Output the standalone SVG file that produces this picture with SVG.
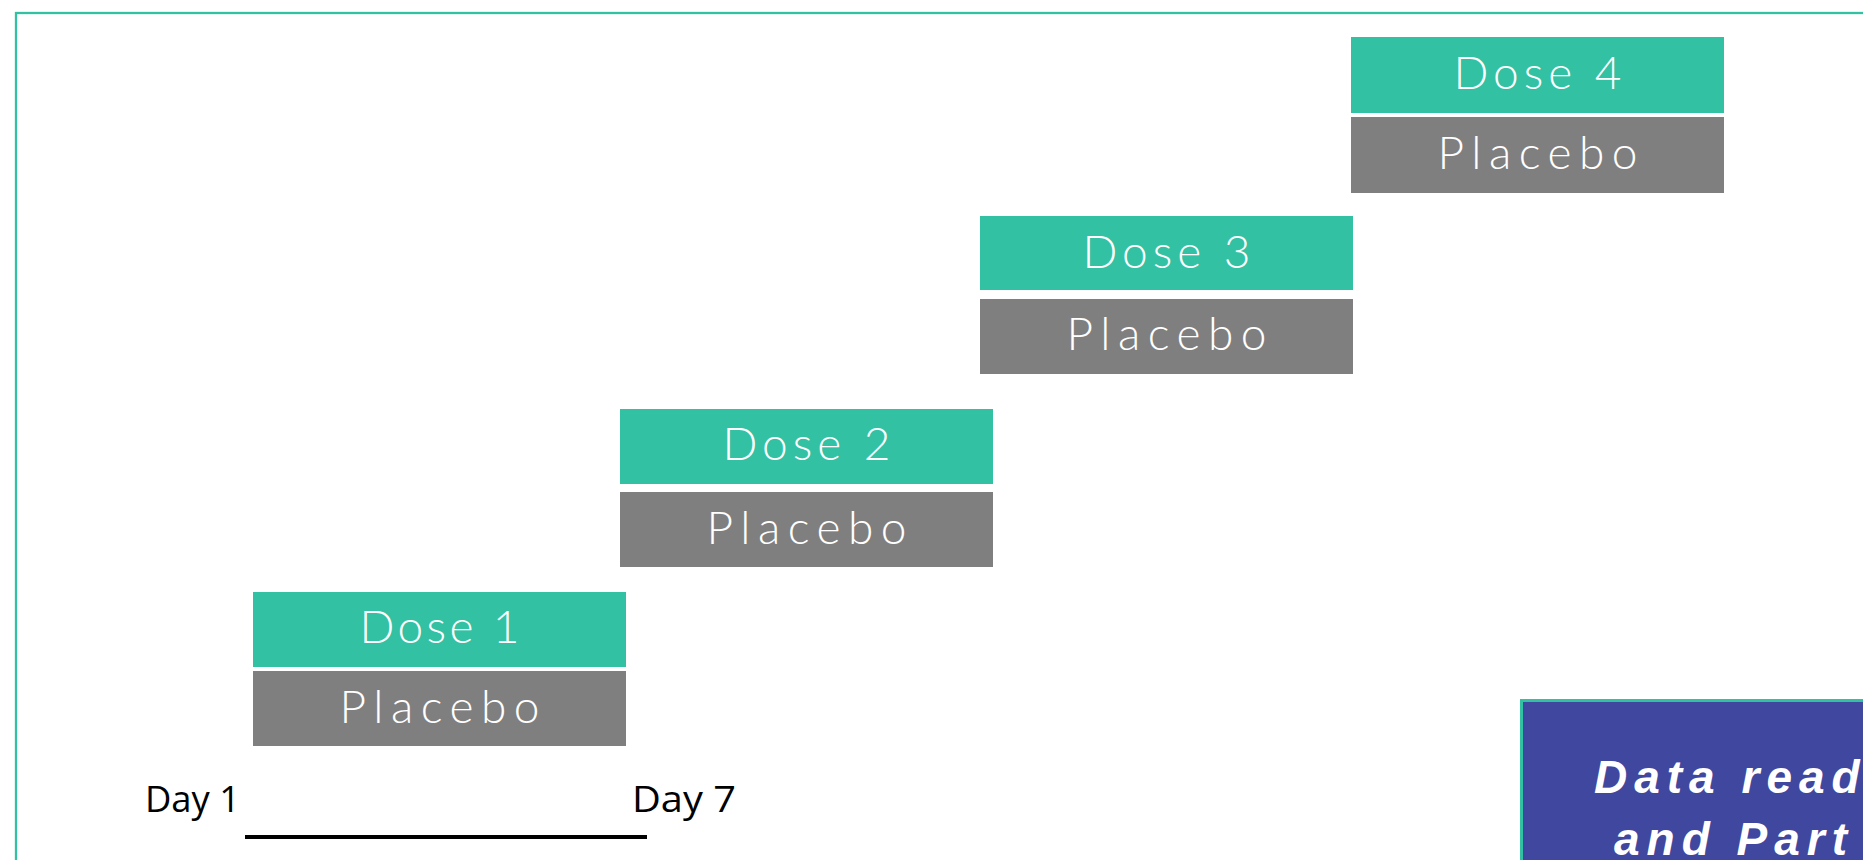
<svg xmlns="http://www.w3.org/2000/svg" width="1863" height="860" viewBox="0 0 1863 860">
<style>
.dose{fill:#33C1A3}
.plc{fill:#7F7F7F}
.lbl{font-family:Lato,"Open Sans",sans-serif;font-weight:300;font-size:46px;fill:#FFFFFF;text-anchor:middle}
.day{font-family:"Open Sans","Liberation Sans",sans-serif;font-size:37px;fill:#000000}
.read{font-family:"Liberation Sans",Arial,sans-serif;font-weight:bold;font-style:italic;font-size:46px;fill:#FFFFFF;letter-spacing:7px}
</style>
<rect id="frame" x="16" y="13" width="2000" height="1000" fill="#FFFFFF" stroke="#33C1A3" stroke-width="2.3"/>
<g id="dose1">
<rect class="dose" x="253" y="592" width="373" height="75"/>
<text class="lbl" x="439.5" y="643" textLength="160" lengthAdjust="spacing">Dose 1</text>
<rect class="plc" x="253" y="671" width="373" height="75"/>
<text class="lbl" x="439.5" y="723" textLength="200" lengthAdjust="spacing">Placebo</text>
</g>
<g id="dose2">
<rect class="dose" x="620" y="409" width="373" height="75"/>
<text class="lbl" x="806.5" y="460" textLength="168" lengthAdjust="spacing">Dose 2</text>
<rect class="plc" x="620" y="492" width="373" height="75"/>
<text class="lbl" x="806.5" y="544" textLength="200" lengthAdjust="spacing">Placebo</text>
</g>
<g id="dose3">
<rect class="dose" x="980" y="216" width="373" height="74"/>
<text class="lbl" x="1166.5" y="268" textLength="168" lengthAdjust="spacing">Dose 3</text>
<rect class="plc" x="980" y="299" width="373" height="75"/>
<text class="lbl" x="1166.5" y="350" textLength="200" lengthAdjust="spacing">Placebo</text>
</g>
<g id="dose4">
<rect class="dose" x="1351" y="37" width="373" height="76"/>
<text class="lbl" x="1537.5" y="89" textLength="168" lengthAdjust="spacing">Dose 4</text>
<rect class="plc" x="1351" y="117" width="373" height="76"/>
<text class="lbl" x="1537.5" y="169" textLength="200" lengthAdjust="spacing">Placebo</text>
</g>
<g id="timeline">
<line x1="245" y1="837" x2="647" y2="837" stroke="#000000" stroke-width="4"/>
<text class="day" x="145" y="812" textLength="95" lengthAdjust="spacingAndGlyphs">Day 1</text>
<text class="day" x="632" y="812" textLength="104" lengthAdjust="spacingAndGlyphs">Day 7</text>
</g>
<g id="readout">
<rect x="1521.5" y="700.5" width="500" height="300" fill="#3F479F" stroke="#33C1A3" stroke-width="3"/>
<text class="read" x="1594" y="793">Data read</text>
<text class="read" x="1614" y="855">and Part</text>
</g>
</svg>
